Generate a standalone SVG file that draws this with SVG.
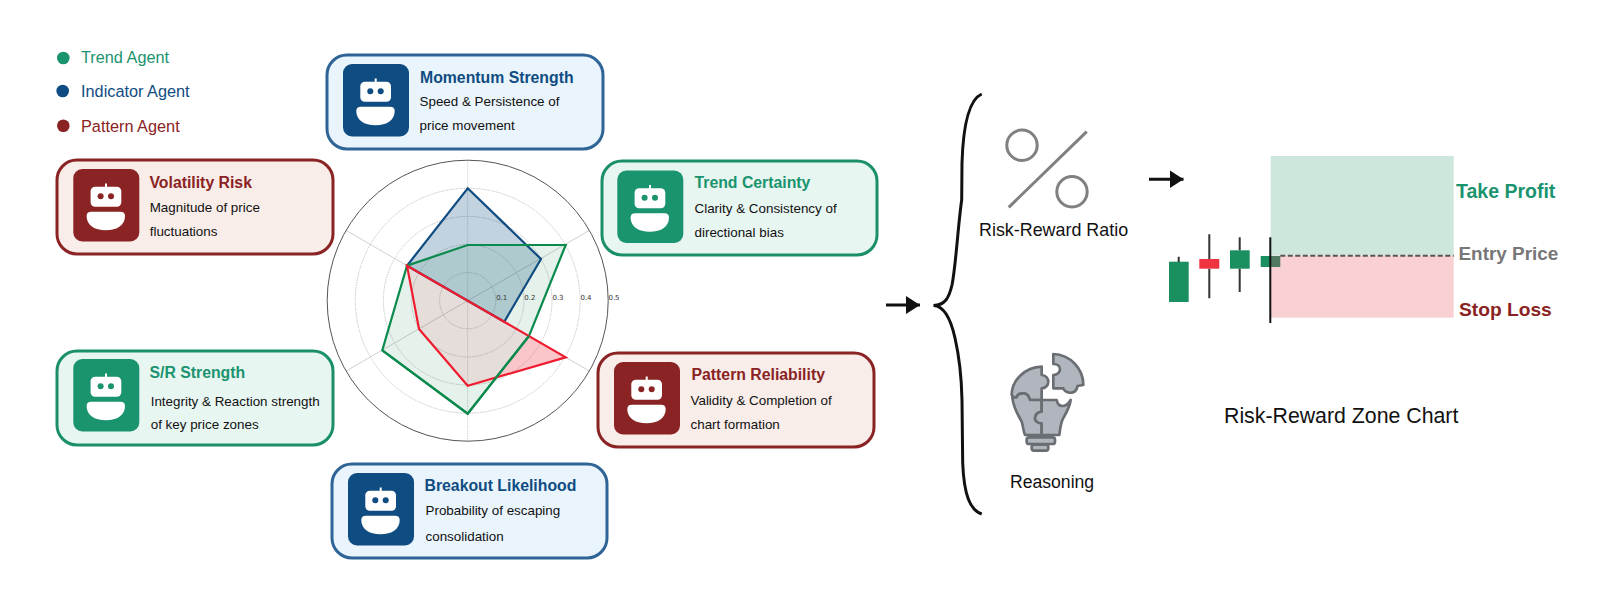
<svg xmlns="http://www.w3.org/2000/svg" xmlns:xlink="http://www.w3.org/1999/xlink" width="1618" height="612" viewBox="0 0 1618 612">
<style>
text{font-family:"Liberation Sans",Arial,sans-serif}
.card{stroke-width:3}
.t{font-size:15.8px;font-weight:700}
.s{font-size:13.4px;fill:#111}
.g .card{fill:#e8f6f1;stroke:#1a8f6a}.g .t{fill:#1a936f}.g{color:#1a936f}
.b .card{fill:#e9f4fd;stroke:#2f6496}.b .t{fill:#0f4c81}.b{color:#0f4c81}
.r .card{fill:#f8ede9;stroke:#8a2323}.r .t{fill:#8a2323}.r{color:#8a2323}
.leg{font-size:16.3px}
.ring{fill:none;stroke:#c8c8c8;stroke-width:1;stroke-dasharray:1.5 1}
.spoke{stroke:#d0d0d0;stroke-width:1}
.tick{font-family:"DejaVu Sans",sans-serif;font-size:7px;fill:#333;text-anchor:middle}
.poly{stroke-width:2.2;stroke-linejoin:miter;fill:none}
.lab{font-size:17.9px;fill:#111}
.zl{font-size:19.5px;font-weight:700}
.piece{fill:#b0b5be;stroke:#6a6e72;stroke-width:8;stroke-linejoin:round}
.conn{fill:none;stroke:#111;stroke-width:3}
</style>
<defs>
<marker id="ah" markerUnits="userSpaceOnUse" markerWidth="15" markerHeight="18" refX="14" refY="9" orient="auto"><path d="M0 0L14 9L0 18Z" fill="#111"/></marker>
<g id="robot">
<rect x="0" y="0" width="66" height="72.5" rx="9" fill="currentColor"/>
<rect x="17.3" y="17.7" width="30.7" height="20" rx="4.5" fill="#fff"/>
<rect x="31.7" y="14.5" width="2" height="4" fill="#fff"/>
<circle cx="27.3" cy="27.3" r="3" fill="currentColor"/>
<circle cx="37.7" cy="27.3" r="3" fill="currentColor"/>
<path d="M13.3 47Q13.3 42.7 18 42.7H47Q51.7 42.7 51.7 47C51.7 56 44 61.3 32.5 61.3S13.3 56 13.3 47Z" fill="#fff"/>
</g>
</defs>
<rect width="1618" height="612" fill="#fff"/>

<g id="legend">
<circle cx="63.3" cy="58" r="6.3" fill="#1a936f"/><text class="leg" x="81" y="63" fill="#1a936f">Trend Agent</text>
<circle cx="62.7" cy="91" r="6.3" fill="#0f4c81"/><text class="leg" x="81" y="97" fill="#0f4c81">Indicator Agent</text>
<circle cx="63.3" cy="125.7" r="6.3" fill="#8a2323"/><text class="leg" x="81" y="131.7" fill="#8a2323">Pattern Agent</text>
</g>

<g id="radar">
<circle class="ring" cx="467.7" cy="300.7" r="28.1"/>
<circle class="ring" cx="467.7" cy="300.7" r="56.2"/>
<circle class="ring" cx="467.7" cy="300.7" r="84.3"/>
<circle class="ring" cx="467.7" cy="300.7" r="112.4"/>
<path class="spoke" d="M467.7 160.2V441.2" stroke-dasharray="1.5 1"/>
<path class="spoke" d="M346 230.4L589.4 371M346 371L589.4 230.4"/>
<circle cx="467.7" cy="300.7" r="140.5" fill="none" stroke="#555" stroke-width="1"/>
<polygon points="467.7,188.3 541,259 504.3,321.7 467.7,300.7 407,265.7" fill="#0f4c81" fill-opacity=".25"/>
<polygon points="467.7,245 565.7,245 529,336 467.7,413.7 382.3,350.3 407,265.7" fill="#0f8a50" fill-opacity=".11"/>
<polygon points="407,265.7 467.7,300.7 529,336 496.3,377.4 467.7,385.7 419,329" fill="#ef2b3c" fill-opacity=".1"/>
<polygon points="529,336 565.7,357.3 496.3,377.4" fill="#ef2b3c" fill-opacity=".27"/>
<polygon class="poly" points="467.7,188.3 541,259 504.3,321.7 467.7,300.7 407,265.7" stroke="#0f4c81"/>
<polygon class="poly" points="467.7,245 565.7,245 529,336 467.7,413.7 382.3,350.3 407,265.7" stroke="#0a8a4c"/>
<polygon class="poly" points="407,265.7 467.7,300.7 565.7,357.3 467.7,385.7 419,329" stroke="#ee1c2e"/>
<polyline class="poly" points="382.3,350.3 467.7,413.7 529,336" stroke="#0a8a4c"/>
<text class="tick" x="501.7" y="300">0.1</text><text class="tick" x="529.8" y="300">0.2</text><text class="tick" x="558" y="300">0.3</text><text class="tick" x="586" y="300">0.4</text><text class="tick" x="614" y="300">0.5</text>
</g>

<g id="node-momentum" class="b" transform="translate(327 55)">
<rect class="card" width="276" height="94" rx="20"/>
<use xlink:href="#robot" href="#robot" x="16" y="9"/>
<text class="t" x="93" y="28">Momentum Strength</text>
<text class="s" x="92.5" y="51">Speed &amp; Persistence of</text><text class="s" x="92.5" y="75">price movement</text>
</g>
<g id="node-volatility" class="r" transform="translate(57 160)">
<rect class="card" width="276" height="94" rx="20"/>
<use xlink:href="#robot" href="#robot" x="16.3" y="9"/>
<text class="t" x="92.5" y="28">Volatility Risk</text>
<text class="s" x="92.7" y="52">Magnitude of price</text><text class="s" x="92.7" y="76">fluctuations</text>
</g>
<g id="node-trend" class="g" transform="translate(602 161)">
<rect class="card" width="275" height="94" rx="20"/>
<use xlink:href="#robot" href="#robot" x="15.3" y="9.5"/>
<text class="t" x="92.5" y="27">Trend Certainty</text>
<text class="s" x="92.5" y="52">Clarity &amp; Consistency of</text><text class="s" x="92.5" y="76">directional bias</text>
</g>
<g id="node-sr" class="g" transform="translate(57 351)">
<rect class="card" width="276" height="94" rx="20"/>
<use xlink:href="#robot" href="#robot" x="16.3" y="8"/>
<text class="t" x="92.5" y="27">S/R Strength</text>
<text class="s" x="93.7" y="55">Integrity &amp; Reaction strength</text><text class="s" x="93.7" y="78">of key price zones</text>
</g>
<g id="node-pattern" class="r" transform="translate(598 353)">
<rect class="card" width="276" height="94" rx="20"/>
<use xlink:href="#robot" href="#robot" x="16" y="9"/>
<text class="t" x="93.5" y="27">Pattern Reliability</text>
<text class="s" x="92.5" y="52">Validity &amp; Completion of</text><text class="s" x="92.5" y="76">chart formation</text>
</g>
<g id="node-breakout" class="b" transform="translate(332 464)">
<rect class="card" width="275" height="94" rx="20"/>
<use xlink:href="#robot" href="#robot" x="16" y="9"/>
<text class="t" x="92.5" y="27">Breakout Likelihood</text>
<text class="s" x="93.5" y="51">Probability of escaping</text><text class="s" x="93.5" y="77">consolidation</text>
</g>

<g id="connectors">
<path class="conn" d="M886 305H920" marker-end="url(#ah)"/>
<path class="conn" d="M1149 179.3H1183.5" marker-end="url(#ah)"/>
<path class="conn" d="M981.7 94C968 100 963 130 962 163L961.7 200C958 225 956 265 952 285C949 298 945 305 933.5 305.5C945 306 951 320 955 338C960 360 961.5 375 962 400L962.7 463C964 495 970 510 981.7 514"/>
</g>

<g id="risk-reward-ratio">
<circle cx="1022" cy="145.3" r="15.2" fill="none" stroke="#808080" stroke-width="3"/>
<circle cx="1072" cy="191.7" r="15.2" fill="none" stroke="#808080" stroke-width="3"/>
<path d="M1086.7 131.7L1008.7 207.3" stroke="#808080" stroke-width="3"/>
<text class="lab" x="979" y="236">Risk-Reward Ratio</text>
</g>

<g id="reasoning">
<g transform="translate(980 340) scale(.3333)">
<path class="piece" d="M220 42C270 44 310 85 310 135L292 138C292 152 280 160 268 158C258 156 250 150 250 145H220V105C232 105 240 97 240 88C240 78 232 72 220 72Z"/>
<path class="piece" d="M185 80C135 82 95 120 95 165C98 172 105 172 110 172C112 162 120 160 130 160C142 160 148 172 150 180H185V145C197 145 205 135 205 125C205 115 197 105 185 105Z"/>
<path class="piece" d="M97 172C100 205 115 225 125 245C130 260 130 275 135 285H185V250C173 250 165 243 165 235C165 225 173 215 185 215V180H150C148 172 142 160 130 160C120 160 112 162 110 172Z"/>
<path class="piece" d="M185 180H230C232 192 240 198 248 198C258 198 266 190 272 180C270 200 258 220 248 238C242 250 240 270 238 285H185V250C173 250 165 243 165 235C165 225 173 215 185 215Z"/>
<rect class="piece" x="140" y="292" width="85" height="20" rx="7"/>
<rect class="piece" x="155" y="314" width="50" height="18" rx="7"/>
</g>
<text class="lab" style="font-size:17.6px" x="1010" y="488">Reasoning</text>
</g>

<g id="zone-chart">
<g fill="#1a8f5f">
<rect x="1169" y="261.7" width="19.7" height="40.3"/>
<rect x="1230" y="250.3" width="19.7" height="18.4"/>
<rect x="1260.7" y="256" width="19.6" height="11"/>
</g>
<rect x="1199.3" y="259" width="20" height="9.7" fill="#ef3340"/>
<path d="M1178.7 256.7V262M1209.3 234.3V259M1209.3 268.7V298.3M1239.7 237.3V250.3M1239.7 268.7V292" stroke="#333" stroke-width="2" fill="none"/>
<rect x="1270.7" y="156" width="183" height="99.7" fill="#cde7dc"/>
<rect x="1270.7" y="255.7" width="183" height="62" fill="#fad1d3"/>
<rect x="1270.7" y="256" width="9.6" height="11" fill="#527a63"/>
<path d="M1270.3 237.3V323" stroke="#111" stroke-width="2" fill="none"/>
<path d="M1280.3 255.7H1453.7" stroke="#555" stroke-width="2" stroke-dasharray="5 2.5" fill="none"/>
<text class="zl" x="1456" y="198" fill="#1a936f">Take Profit</text>
<text class="zl" style="font-size:18.9px" x="1458.5" y="260" fill="#777">Entry Price</text>
<text class="zl" style="font-size:19.2px" x="1459" y="316" fill="#8a2323">Stop Loss</text>
<text x="1224" y="423" font-size="21.3" fill="#111">Risk-Reward Zone Chart</text>
</g>
</svg>
